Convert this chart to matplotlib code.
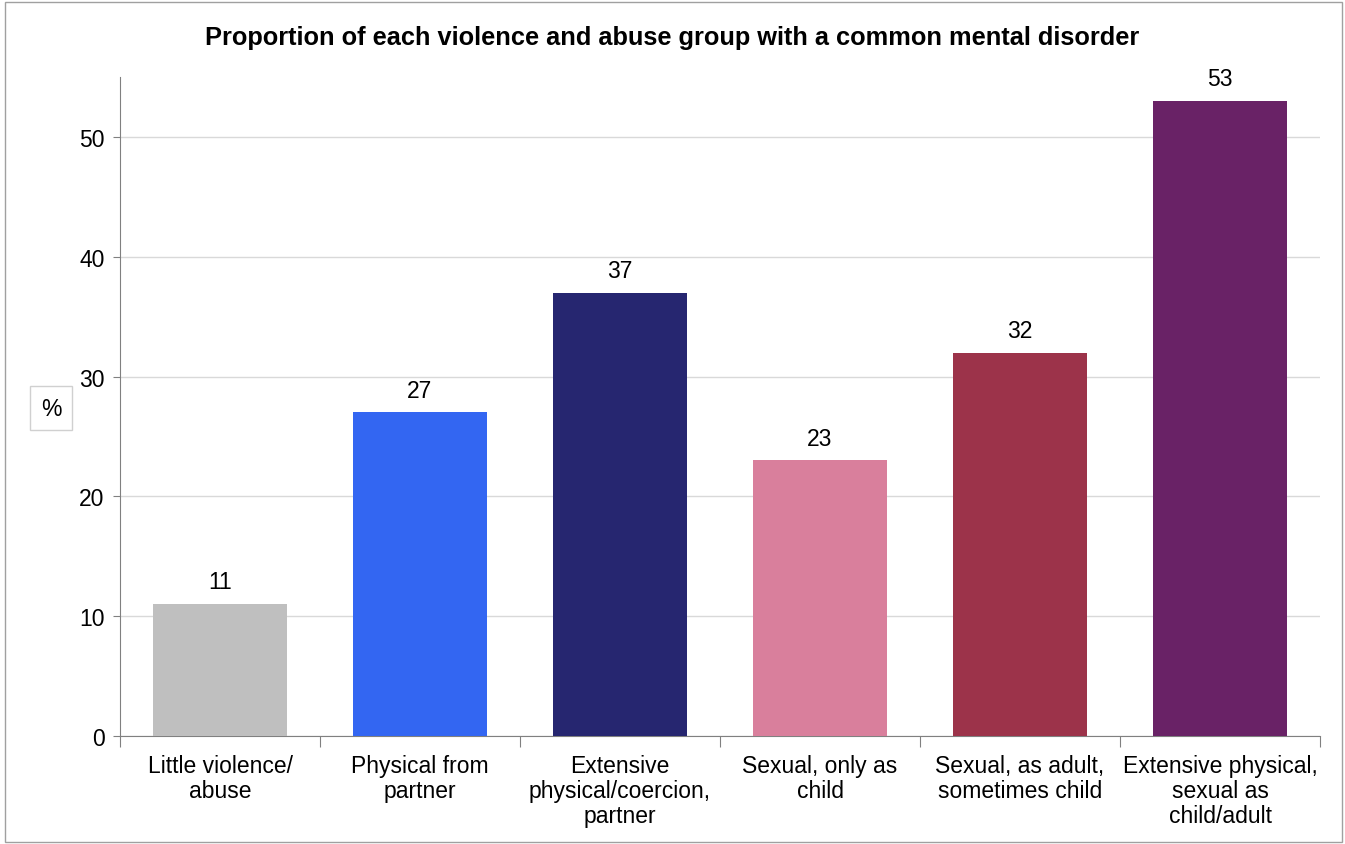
import numpy as np
import matplotlib
matplotlib.use('Agg')
import matplotlib.pyplot as plt
from matplotlib.patches import Rectangle

categories = ['Little violence/\nabuse', 'Physical from\npartner', 'Extensive\nphysical/coercion,\npartner',
              'Sexual, only as\nchild', 'Sexual, as adult,\nsometimes child', 'Extensive physical,\nsexual as\nchild/adult']
values = [11, 27, 37, 23, 32, 53]
colors = ['#BFBFBF', '#3366F2', '#262670', '#D97F9C', '#9C334A', '#692266']

plt.rcParams['font.family'] = ['Liberation Sans', 'DejaVu Sans']
fs = 16.5

fig = plt.figure(figsize=(13.45, 8.45), dpi=100)
ax = fig.add_axes([120 / 1345, 1 - 737 / 845, 1200 / 1345, (737 - 78) / 845])

x = np.arange(len(values))
bars = ax.bar(x, values, width=0.67, color=colors, zorder=3)
for b, v in zip(bars, values):
    ax.text(b.get_x() + b.get_width() / 2, v + 0.9, str(v), ha='center', va='bottom', fontsize=fs)

ax.set_xlim(-0.5, len(values) - 0.5)
ax.set_ylim(0, 55)
ax.set_yticks([0, 10, 20, 30, 40, 50])
ax.yaxis.grid(True, color='#D9D9D9', linewidth=1, zorder=0)
ax.set_xticks(np.arange(-0.5, len(values), 1.0))
ax.set_xticklabels([])
ax.set_xticks(x, minor=True)
ax.set_xticklabels(categories, minor=True, fontsize=fs, linespacing=1.1)
ax.tick_params(axis='x', which='minor', length=0, pad=13)
ax.tick_params(axis='x', which='major', length=8, color='#808080', direction='out')
ax.tick_params(axis='y', length=5, color='#808080', labelsize=fs, pad=6)
for s in ['top', 'right']:
    ax.spines[s].set_visible(False)
for s in ['left', 'bottom']:
    ax.spines[s].set_color('#808080')

fig.text(0.5, 1 - 38 / 845, 'Proportion of each violence and abuse group with a common mental disorder',
         ha='center', va='center', fontsize=18.3, fontweight='bold')
fig.text(51 / 1345, 1 - 409 / 845, '%', ha='center', va='center', fontsize=fs,
         bbox=dict(boxstyle='square,pad=0.45', facecolor='white', edgecolor='#D0D0D0'))
fig.patches.append(Rectangle((5 / 1345, 2 / 845), 1337 / 1345, 840 / 845, transform=fig.transFigure,
                             fill=False, edgecolor='#A0A0A0', linewidth=1))

fig.savefig('out.png', dpi=100)
